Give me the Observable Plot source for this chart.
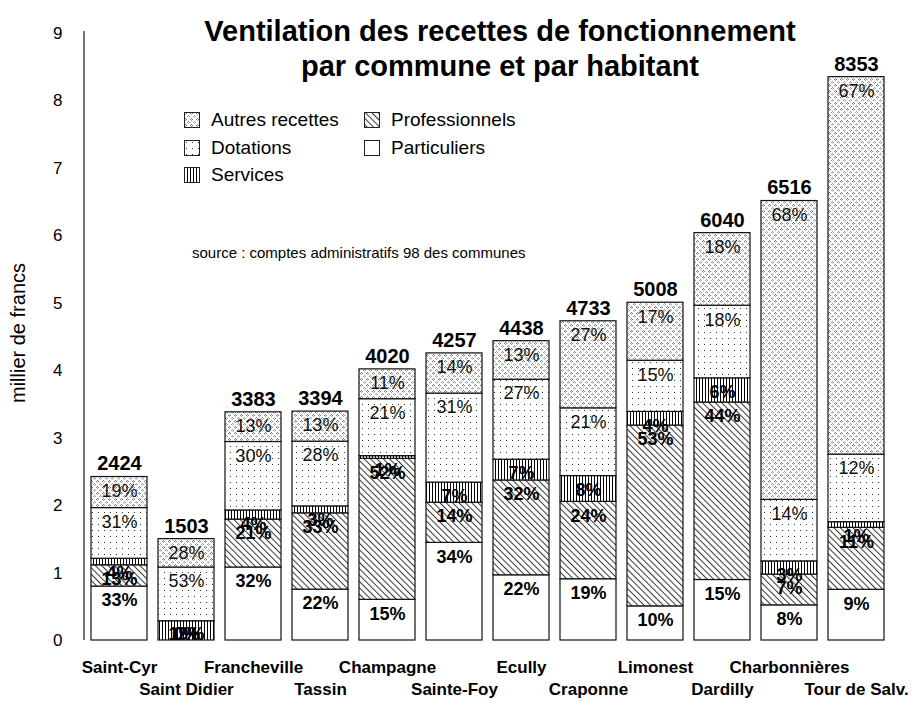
<!DOCTYPE html>
<html><head><meta charset="utf-8">
<script src="https://cdn.jsdelivr.net/npm/d3@7"></script>
<script src="https://cdn.jsdelivr.net/npm/@observablehq/plot@0.6"></script>
<style>
body{margin:0;background:#fff;font-family:"Liberation Sans",Arial,sans-serif;}
#wrap{position:relative;width:919px;height:707px;overflow:hidden;background:#fff;}
.ov{position:absolute;white-space:nowrap;color:#000;font-family:"Liberation Sans",Arial,sans-serif;}
</style></head><body>
<svg width="0" height="0" style="position:absolute">
<defs>
  <pattern id="p-autres" width="6" height="6" patternUnits="userSpaceOnUse">
    <rect width="6" height="6" fill="#fff"/>
    <rect x="1" y="0" width="1" height="1" fill="#777"/>
    <rect x="0" y="1" width="1" height="1" fill="#777"/>
    <rect x="2" y="1" width="1" height="1" fill="#777"/>
    <rect x="1" y="2" width="1" height="1" fill="#aaa"/>
    <rect x="4" y="3" width="1" height="1" fill="#999"/>
    <rect x="3" y="4" width="1" height="1" fill="#999"/>
    <rect x="5" y="4" width="1" height="1" fill="#999"/>
    <rect x="4" y="5" width="1" height="1" fill="#bbb"/>
  </pattern>
  <pattern id="p-dot" width="6" height="6" patternUnits="userSpaceOnUse">
    <rect width="6" height="6" fill="#fff"/>
    <rect x="2" y="2" width="1" height="1" fill="#333"/>
  </pattern>
  <pattern id="p-serv" width="3" height="3" patternUnits="userSpaceOnUse">
    <rect width="3" height="3" fill="#fff"/>
    <rect x="0" y="0" width="1" height="3" fill="#000"/>
  </pattern>
  <pattern id="p-pro" width="4.5" height="4.5" patternUnits="userSpaceOnUse" patternTransform="rotate(-45)">
    <rect width="4.5" height="4.5" fill="#fff"/>
    <rect x="0" y="0" width="1" height="4.5" fill="#333"/>
  </pattern>
</defs></svg>
<div id="wrap"></div>
<script>
// ---- data ----
const communes = ["Saint-Cyr","Saint Didier","Francheville","Tassin","Champagne","Sainte-Foy","Ecully","Craponne","Limonest","Dardilly","Charbonnières","Tour de Salv."];
const totals = [2424,1503,3383,3394,4020,4257,4438,4733,5008,6040,6516,8353];
const particuliers   = [33, 0,32,22,15,34,22,19,10,15, 8, 9];
const professionnels = [13, 0,21,33,52,14,32,24,53,44, 7,11];
const services       = [ 4,19, 4, 3, 1, 7, 7, 8, 4, 6, 3, 1];
const dotations      = [31,53,30,28,21,31,27,21,15,18,14,12];
const autres         = [19,28,13,13,11,14,13,27,17,18,68,67];
const seriesNames = ["Particuliers","Professionnels","Services","Dotations","Autres recettes"];
const yTicks = [0,1,2,3,4,5,6,7,8,9];

const fills = {
  "Particuliers": "#ffffff",
  "Professionnels": "url(#p-pro)",
  "Services": "url(#p-serv)",
  "Dotations": "url(#p-dot)",
  "Autres recettes": "url(#p-autres)"
};
const boldSeries = new Set(["Particuliers","Professionnels","Services"]);

const rows = [];
communes.forEach((c, i) => {
  const parts = [particuliers[i], professionnels[i], services[i], dotations[i], autres[i]];
  const sum = d3.sum(parts);
  let acc = 0;
  parts.forEach((p, k) => {
    const h = p / sum * totals[i] / 1000;
    rows.push({commune: c, serie: seriesNames[k], pct: p, y1: acc, y2: acc + h, idx: i});
    acc += h;
  });
});
const totRows = communes.map((c, i) => ({commune: c, total: totals[i] / 1000, label: String(totals[i]), idx: i}));

const font = "Liberation Sans, Arial, sans-serif";
const marginLeft = 84, marginTop = 33;

const marks = [];
seriesNames.forEach(s => {
  marks.push(Plot.barY(rows.filter(r => r.serie === s), {
    x: "commune", y1: "y1", y2: "y2", fill: fills[s], stroke: "#111", strokeWidth: 1.2
  }));
});
const labY = d => Math.max(d.y2, 0.3);
marks.push(Plot.text(rows.filter(r => boldSeries.has(r.serie)), {
  x: "commune", y: labY, dy: 14, text: d => d.pct + "%", fontWeight: "bold", fontSize: 18, fill: "#000"
}));
marks.push(Plot.text(rows.filter(r => !boldSeries.has(r.serie)), {
  x: "commune", y: labY, dy: 14, text: d => d.pct + "%", fontSize: 18, fill: "#111"
}));
marks.push(Plot.text(totRows, {
  x: "commune", y: "total", dy: -13, text: "label", fontWeight: "bold", fontSize: 20, fill: "#000"
}));
marks.push(Plot.text(totRows.filter(d => d.idx % 2 === 0), {
  x: "commune", frameAnchor: "bottom", dy: 32, text: "commune", fontWeight: "bold", fontSize: 17, fill: "#000"
}));
marks.push(Plot.text(totRows.filter(d => d.idx % 2 === 1), {
  x: "commune", frameAnchor: "bottom", dy: 54, text: "commune", fontWeight: "bold", fontSize: 17, fill: "#000"
}));
marks.push(Plot.axisY({ticks: yTicks, tickSize: 0, tickPadding: 22, fontSize: 17, label: null, tickFormat: d => String(d)}));

const chart = Plot.plot({
  width: 919, height: 707,
  marginLeft, marginRight: 28, marginTop, marginBottom: 67,
  style: {fontFamily: font, fontSize: "17px", color: "#000", background: "transparent"},
  x: {domain: communes, paddingInner: 0.17, paddingOuter: 0.085, axis: null},
  y: {domain: [0, 9], axis: null},
  marks
});
chart.style.position = "absolute";
chart.style.left = "0px";
chart.style.top = "0px";
const wrap = document.getElementById("wrap");
wrap.appendChild(chart);

// vertical axis line
const ys = chart.scale("y");
d3.select(chart).append("line")
  .attr("x1", marginLeft).attr("x2", marginLeft)
  .attr("y1", ys.apply(9) - 2).attr("y2", ys.apply(0))
  .attr("stroke", "#444").attr("stroke-width", 1.5);

// overlays: title, y label, source, legend
function ov(text, css) {
  const d = document.createElement("div");
  d.className = "ov";
  d.textContent = text;
  Object.assign(d.style, css);
  wrap.appendChild(d);
  return d;
}
ov("Ventilation des recettes de fonctionnement", {left: "200px", width: "600px", top: "14px", textAlign: "center", fontSize: "29px", fontWeight: "bold", lineHeight: "35px"});
ov("par commune et par habitant", {left: "200px", width: "600px", top: "49px", textAlign: "center", fontSize: "29px", fontWeight: "bold", lineHeight: "35px"});
ov("source : comptes administratifs 98 des communes", {left: "192px", top: "244px", fontSize: "15px", lineHeight: "18px"});
const yl = ov("millier de francs", {left: "18px", top: "333px", fontSize: "20px", lineHeight: "22px"});
yl.style.transform = "translate(-50%,-50%) rotate(-90deg)";

const legendItems = [
  {name: "Autres recettes", col: 0, row: 0},
  {name: "Dotations", col: 0, row: 1},
  {name: "Services", col: 0, row: 2},
  {name: "Professionnels", col: 1, row: 0},
  {name: "Particuliers", col: 1, row: 1}
];
const colX = [184, 364], rowY = [120, 148, 175];
legendItems.forEach(it => {
  const sw = document.createElementNS("http://www.w3.org/2000/svg", "svg");
  sw.setAttribute("width", 16); sw.setAttribute("height", 16);
  sw.style.position = "absolute";
  sw.style.left = colX[it.col] + "px";
  sw.style.top = (rowY[it.row] - 8) + "px";
  d3.select(sw).append("rect").attr("x", 0.5).attr("y", 0.5).attr("width", 15).attr("height", 15)
    .attr("fill", fills[it.name]).attr("stroke", "#222").attr("stroke-width", 1);
  wrap.appendChild(sw);
  ov(it.name, {left: (colX[it.col] + 27) + "px", top: (rowY[it.row] - 11) + "px", fontSize: "19px", lineHeight: "22px"});
});
</script>
</body></html>
